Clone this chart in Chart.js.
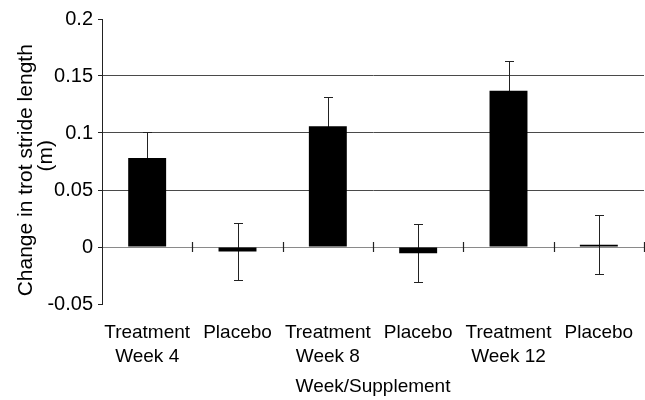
<!DOCTYPE html>
<html>
<head>
<meta charset="utf-8">
<script src="https://cdn.jsdelivr.net/npm/chart.js@4/dist/chart.umd.min.js"></script>
<style>
  html, body { margin: 0; padding: 0; background: #fff; }
  #wrap { width: 645px; height: 400px; }
</style>
</head>
<body>
<div id="wrap"><canvas id="c" width="645" height="400"></canvas></div>
<script>
// ---- data ----
const groupLabels = ["Treatment", "Placebo", "Treatment", "Placebo", "Treatment", "Placebo"];
const weekLabels  = ["Week 4", "", "Week 8", "", "Week 12", ""];
const changeValues = [0.078, -0.004, 0.106, -0.0055, 0.137, 0.002];
const errorValues  = [0.023, 0.025, 0.0255, 0.0255, 0.026, 0.0257];
const yTickValues  = [-0.05, 0, 0.05, 0.1, 0.15, 0.2];
const yTickLabels  = ["-0.05", "0", "0.05", "0.1", "0.15", "0.2"];
const gridValues   = [0.05, 0.1, 0.15];
const yTitle = ["Change in trot stride length   ", "  (m)"];
const xTitle = "Week/Supplement";

const categories = groupLabels.map((g, i) => weekLabels[i] ? [g, weekLabels[i]] : g);

const FONT = "'Liberation Sans', Arial, Helvetica, sans-serif";

const errorBarPlugin = {
  id: 'errorBars',
  beforeDatasetsDraw(chart) {
    const ctx = chart.ctx;
    const y = chart.scales.y;
    const meta = chart.getDatasetMeta(0);
    ctx.save();
    ctx.strokeStyle = '#222';
    ctx.lineWidth = 1;
    meta.data.forEach((bar, i) => {
      const v = changeValues[i], e = errorValues[i];
      const yt = Math.round(y.getPixelForValue(v + e)) + 0.5;
      const yb = Math.round(y.getPixelForValue(v - e)) + 0.5;
      const x = Math.round(bar.x) + 0.5;
      ctx.beginPath();
      ctx.moveTo(x, yt); ctx.lineTo(x, yb);
      ctx.moveTo(x - 4.5, yt); ctx.lineTo(x + 4.5, yt);
      ctx.moveTo(x - 4.5, yb); ctx.lineTo(x + 4.5, yb);
      ctx.stroke();
    });
    ctx.restore();
  }
};

const zeroTickPlugin = {
  id: 'zeroTicks',
  afterDatasetsDraw(chart) {
    const ctx = chart.ctx;
    const xs = chart.scales.x, ys = chart.scales.y;
    const y0 = ys.getPixelForValue(0);
    const n = categories.length;
    ctx.save();
    ctx.strokeStyle = '#222';
    ctx.lineWidth = 1.2;
    ctx.beginPath();
    for (let i = 1; i <= n; i++) {
      const xb = i < n ? (xs.getPixelForValue(i - 1) + xs.getPixelForValue(i)) / 2 : xs.right - 0.5;
      const xx = Math.round(xb) + 0.5;
      ctx.moveTo(xx, y0 - 5); ctx.lineTo(xx, y0 + 5);
    }
    ctx.stroke();
    ctx.restore();
  }
};

new Chart(document.getElementById('c'), {
  type: 'bar',
  data: {
    labels: categories,
    datasets: [{
      data: changeValues,
      backgroundColor: '#000',
      borderColor: '#000',
      borderWidth: 0,
      barPercentage: 0.42,
      categoryPercentage: 1.0
    }]
  },
  options: {
    responsive: false,
    animation: false,
    devicePixelRatio: 1,
    layout: { padding: { left: 4, top: 19, right: 1, bottom: 0 } },
    plugins: { legend: { display: false }, tooltip: { enabled: false } },
    scales: {
      x: {
        grid: { display: false },
        border: { display: false },
        ticks: {
          color: '#000',
          padding: 9,
          maxRotation: 0,
          autoSkip: false,
          font: { family: FONT, size: 19, lineHeight: 1.25 }
        },
        title: {
          display: true, text: xTitle, color: '#000',
          padding: { top: 0, bottom: 3 },
          font: { family: FONT, size: 19, lineHeight: 1.1 }
        },
        afterFit(scale) { scale.height = 96; }
      },
      y: {
        min: -0.05, max: 0.2,
        afterBuildTicks(scale) { scale.ticks = yTickValues.map(v => ({ value: v })); },
        ticks: {
          color: '#000',
          padding: 5,
          font: { family: FONT, size: 20 },
          callback: (v) => yTickLabels[yTickValues.findIndex(t => Math.abs(t - v) < 1e-9)]
        },
        grid: {
          tickLength: 4,
          tickColor: '#222',
          lineWidth: 1,
          color: (ctx) => {
            const v = ctx.tick ? ctx.tick.value : null;
            if (v === null) return 'rgba(0,0,0,0)';
            if (Math.abs(v) < 1e-9) return '#8a8a8a';
            if (gridValues.some(g => Math.abs(g - v) < 1e-9)) return '#4a4a4a';
            return 'rgba(0,0,0,0)';
          }
        },
        border: { display: true, color: '#222', width: 1 },
        title: {
          display: true, text: yTitle, color: '#000',
          padding: { top: 12, bottom: 0 },
          font: { family: FONT, size: 21, lineHeight: 0.95 }
        },
        afterFit(scale) { scale.width = 98; }
      }
    }
  },
  plugins: [errorBarPlugin, zeroTickPlugin]
});
</script>
</body>
</html>
